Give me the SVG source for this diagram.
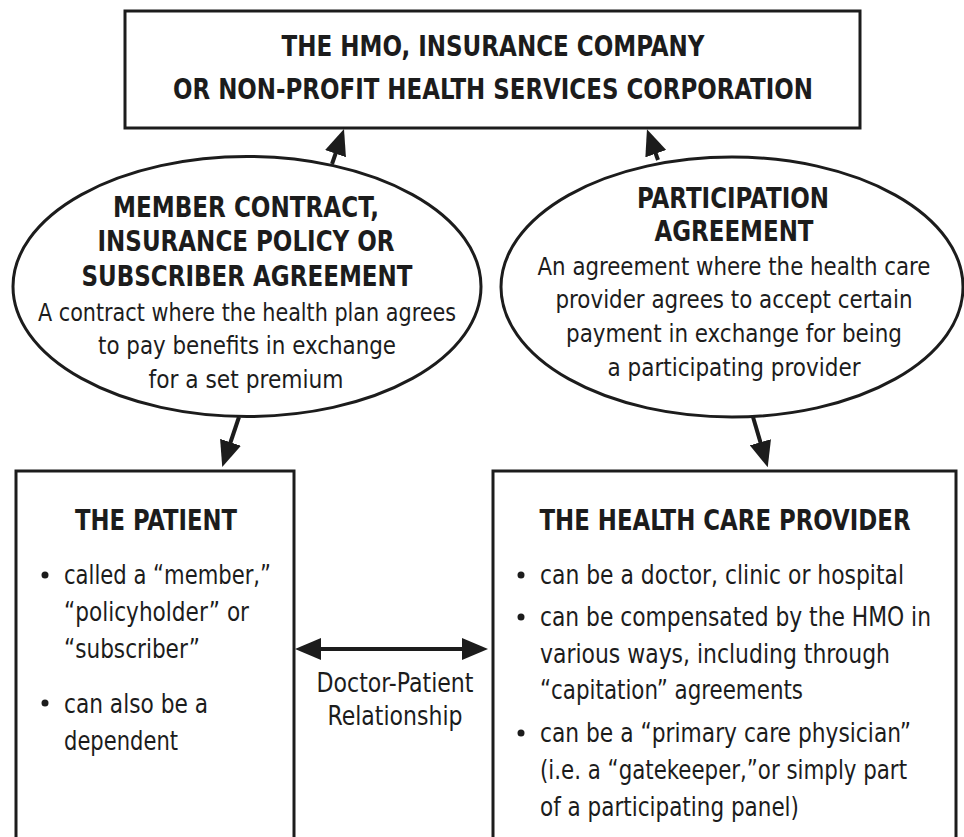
<svg xmlns="http://www.w3.org/2000/svg" width="964" height="837" viewBox="0 0 964 837">
  <defs>
    <style>
      .box { fill: #fff; stroke: #1c1c1c; stroke-width: 3; }
      .oval { fill: #fff; stroke: #1c1c1c; stroke-width: 3; }
      .hd { font-family: "Liberation Sans Narrow", "DejaVu Sans Condensed", "Liberation Sans", sans-serif; font-weight: bold; font-size: 29px; fill: #1c1c1c; }
      .tx { font-family: "Liberation Sans Narrow", "DejaVu Sans Condensed", "Liberation Sans", sans-serif; font-size: 26px; fill: #1c1c1c; }
      .el { font-size: 25px; }
      .mid { text-anchor: middle; }
      .link { fill: none; stroke: #1c1c1c; stroke-width: 4; }
      .dot { fill: #1c1c1c; }
    </style>
    <marker id="head" viewBox="0 0 26 22" refX="6" refY="11" markerWidth="26" markerHeight="22" markerUnits="userSpaceOnUse" orient="auto-start-reverse">
      <path d="M0,0 L26,11 L0,22 z" fill="#1c1c1c"/>
    </marker>
  </defs>

  <!-- organisation at the top -->
  <g id="hmo">
    <rect class="box" x="125" y="11" width="735" height="117"/>
    <text class="hd mid" x="493" y="56" textLength="423" lengthAdjust="spacingAndGlyphs">THE HMO, INSURANCE COMPANY</text>
    <text class="hd mid" x="493" y="99" textLength="640" lengthAdjust="spacingAndGlyphs">OR NON-PROFIT HEALTH SERVICES CORPORATION</text>
  </g>

  <!-- member contract -->
  <g id="member-contract">
    <ellipse class="oval" cx="247" cy="286.5" rx="234" ry="130"/>
    <text class="hd mid" x="246" y="217" textLength="266" lengthAdjust="spacingAndGlyphs">MEMBER CONTRACT,</text>
    <text class="hd mid" x="246" y="251" textLength="297" lengthAdjust="spacingAndGlyphs">INSURANCE POLICY OR</text>
    <text class="hd mid" x="247" y="286" textLength="331" lengthAdjust="spacingAndGlyphs">SUBSCRIBER AGREEMENT</text>
    <text class="tx el mid" x="247" y="321" textLength="418" lengthAdjust="spacingAndGlyphs">A contract where the health plan agrees</text>
    <text class="tx el mid" x="247" y="354" textLength="298" lengthAdjust="spacingAndGlyphs">to pay benefits in exchange</text>
    <text class="tx el mid" x="246" y="388" textLength="195" lengthAdjust="spacingAndGlyphs">for a set premium</text>
  </g>

  <!-- participation agreement -->
  <g id="participation-agreement">
    <ellipse class="oval" cx="732" cy="287" rx="231" ry="130"/>
    <text class="hd mid" x="733" y="208" textLength="192" lengthAdjust="spacingAndGlyphs">PARTICIPATION</text>
    <text class="hd mid" x="734" y="241" textLength="159" lengthAdjust="spacingAndGlyphs">AGREEMENT</text>
    <text class="tx el mid" x="734" y="275" textLength="393" lengthAdjust="spacingAndGlyphs">An agreement where the health care</text>
    <text class="tx el mid" x="734" y="308" textLength="357" lengthAdjust="spacingAndGlyphs">provider agrees to accept certain</text>
    <text class="tx el mid" x="734" y="342" textLength="336" lengthAdjust="spacingAndGlyphs">payment in exchange for being</text>
    <text class="tx el mid" x="734" y="376" textLength="253" lengthAdjust="spacingAndGlyphs">a participating provider</text>
  </g>

  <!-- patient -->
  <g id="patient">
    <rect class="box" x="16" y="471" width="278" height="400"/>
    <text class="hd mid" x="156" y="530" textLength="162" lengthAdjust="spacingAndGlyphs">THE PATIENT</text>
    <circle class="dot" cx="45" cy="575" r="3.5"/>
    <text class="tx" x="64" y="584" textLength="207" lengthAdjust="spacingAndGlyphs">called a “member,”</text>
    <text class="tx" x="64" y="621" textLength="185" lengthAdjust="spacingAndGlyphs">“policyholder” or</text>
    <text class="tx" x="64" y="658" textLength="136" lengthAdjust="spacingAndGlyphs">“subscriber”</text>
    <circle class="dot" cx="45" cy="703" r="3.5"/>
    <text class="tx" x="64" y="713" textLength="144" lengthAdjust="spacingAndGlyphs">can also be a</text>
    <text class="tx" x="64" y="750" textLength="114" lengthAdjust="spacingAndGlyphs">dependent</text>
  </g>

  <!-- health care provider -->
  <g id="provider">
    <rect class="box" x="493" y="471" width="463" height="400"/>
    <text class="hd mid" x="725" y="530" textLength="371" lengthAdjust="spacingAndGlyphs">THE HEALTH CARE PROVIDER</text>
    <circle class="dot" cx="521" cy="575" r="3.5"/>
    <text class="tx" x="540" y="584" textLength="364" lengthAdjust="spacingAndGlyphs">can be a doctor, clinic or hospital</text>
    <circle class="dot" cx="521" cy="617" r="3.5"/>
    <text class="tx" x="540" y="626" textLength="391" lengthAdjust="spacingAndGlyphs">can be compensated by the HMO in</text>
    <text class="tx" x="540" y="663" textLength="350" lengthAdjust="spacingAndGlyphs">various ways, including through</text>
    <text class="tx" x="540" y="699" textLength="263" lengthAdjust="spacingAndGlyphs">“capitation” agreements</text>
    <circle class="dot" cx="521" cy="733" r="3.5"/>
    <text class="tx" x="540" y="742" textLength="371" lengthAdjust="spacingAndGlyphs">can be a “primary care physician”</text>
    <text class="tx" x="540" y="779" textLength="367" lengthAdjust="spacingAndGlyphs">(i.e. a “gatekeeper,”or simply part</text>
    <text class="tx" x="540" y="816" textLength="259" lengthAdjust="spacingAndGlyphs">of a participating panel)</text>
  </g>

  <!-- connectors -->
  <g id="connectors">
    <line class="link" x1="332" y1="164" x2="337.5" y2="148" marker-end="url(#head)"/>
    <line class="link" x1="658" y1="160" x2="653.7" y2="148" marker-end="url(#head)"/>
    <line class="link" x1="239" y1="417" x2="228.6" y2="448" marker-end="url(#head)"/>
    <line class="link" x1="753" y1="417" x2="762.1" y2="448" marker-end="url(#head)"/>
    <line class="link" x1="315" y1="649" x2="468" y2="649" marker-start="url(#head)" marker-end="url(#head)"/>
    <text class="tx mid" x="395" y="692" font-size="25" textLength="157" lengthAdjust="spacingAndGlyphs">Doctor-Patient</text>
    <text class="tx mid" x="395" y="725" font-size="25" textLength="135" lengthAdjust="spacingAndGlyphs">Relationship</text>
  </g>
</svg>
